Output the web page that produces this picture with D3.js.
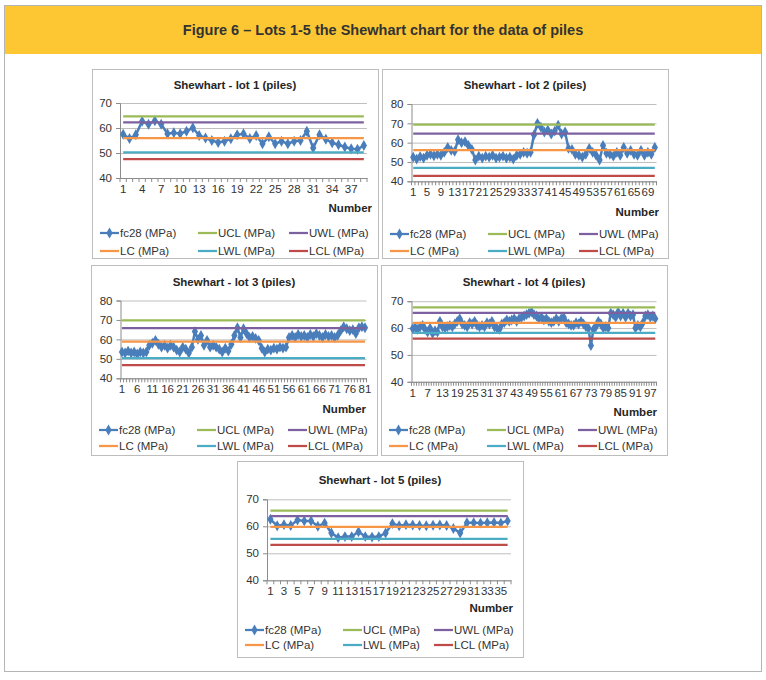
<!DOCTYPE html>
<html>
<head>
<meta charset="utf-8">
<script src="https://cdn.jsdelivr.net/npm/d3@7"></script>
<style>
  body { margin: 0; background: #fff; }
  svg { display: block; font-family: "Liberation Sans", Arial, sans-serif; }
</style>
</head>
<body>
<div id="chart"></div>
<script>
// fc28 values (MPa)
const lot1 = [57.5, 55.8, 57.3, 62.7, 61.5, 62.9, 61.5, 57.7, 58.1, 57.7,
  58.7, 60.1, 57.0, 56.0, 55.0, 54.2, 54.7, 55.7, 57.3, 57.7,
  55.8, 57.0, 53.7, 56.5, 53.7, 54.7, 53.7, 54.7, 55.0, 58.7,
  52.0, 57.3, 55.5, 54.1, 53.3, 52.4, 51.7, 51.5, 53.0];
const lot2 = [52.5, 51.5, 52.8, 52.0, 53.5, 54.0, 53.2, 54.0, 53.5, 55.0,
  57.5, 56.0, 55.5, 61.5, 60.0, 60.5, 58.5, 56.5, 51.0, 53.0,
  52.0, 53.0, 52.5, 53.5, 52.0, 52.5, 53.0, 52.0, 52.5, 51.5,
  53.5, 54.0, 55.0, 54.5, 55.0,
  64.0, 70.0, 68.0, 65.5, 66.5, 64.5, 66.0, 69.0, 64.5, 65.5,
  57.0, 56.5, 54.0, 53.5, 52.5, 54.0, 57.0, 55.0, 53.5, 51.0,
  58.5, 54.5, 54.0, 53.0, 55.0, 53.5, 57.5, 54.5, 56.0, 54.0,
  53.5, 56.0, 53.5, 55.0, 54.0, 57.5];
const lot3 = [53.5, 53.0, 54.0, 53.0, 53.5, 52.5, 53.5, 53.0, 53.5, 57.0,
  58.0, 59.5, 57.5, 56.0, 57.0, 55.5, 57.0, 56.0, 54.5, 53.5,
  56.0, 55.0, 53.0, 56.0, 64.0, 60.0, 62.0, 57.0, 59.5, 56.0,
  57.0, 56.0, 55.0, 53.5, 55.5, 54.0, 57.5, 62.0, 66.0, 61.0,
  65.5, 63.0, 61.0, 61.5, 60.5, 59.5, 55.5, 53.5, 55.0, 54.5,
  55.5, 55.0, 56.0, 55.5, 56.0, 61.0, 62.0, 61.0, 62.5, 61.5,
  62.0, 61.0, 62.5, 61.5, 63.0, 62.0, 61.0, 62.5, 61.5, 62.0,
  61.0, 62.0, 64.5, 66.5, 65.5, 64.5, 65.0, 63.0, 66.0, 66.5,
  66.0];
const lot4 = [59.8, 60.2, 59.5, 60.5, 61.0, 59.5, 58.5, 60.0, 58.0, 59.0,
  58.5, 62.5, 60.5, 60.0, 60.5, 61.0, 60.5, 61.5, 62.5, 63.5,
  61.5, 61.0, 60.5, 62.0, 61.5, 62.5, 61.0, 60.5, 61.0, 60.5,
  62.0, 61.5, 62.5, 60.5, 60.0, 59.5, 61.5, 62.0, 63.0, 62.5,
  63.0, 63.5, 62.5, 63.5, 64.0, 64.5, 65.0, 65.5, 66.0, 65.0,
  64.5, 63.5, 64.0, 63.0, 63.5, 62.5, 62.0, 62.5, 63.5, 62.5,
  63.5, 64.0, 62.0, 61.5, 61.0, 61.0, 62.0, 61.5, 62.5, 61.5,
  60.5, 60.0, 53.5, 59.5, 60.5, 62.5, 61.5, 60.0, 60.5, 60.0,
  65.5, 65.0, 64.0, 66.0, 64.5, 65.5, 64.0, 65.5, 64.5, 65.0,
  60.0, 61.0, 60.5, 62.0, 64.5, 65.0, 64.0, 64.5, 63.5];
const lot5 = [62.6, 60.2, 60.6, 60.3, 62.3, 62.0, 62.0, 60.0, 61.2, 57.5,
  55.8, 56.2, 56.2, 58.0, 56.2, 56.0, 56.2, 57.5, 61.0, 60.2,
  60.6, 60.5, 60.3, 60.2, 60.4, 60.5, 60.3, 59.2, 57.5, 61.3,
  61.3, 61.2, 61.3, 61.4, 61.2, 62.0];

// control limits per lot: UCL, UWL, LC, LWL, LCL
const limits1 = [64.7, 62.3, 56.0, 50.3, 47.6];
const limits2 = [69.3, 64.7, 56.1, 47.0, 42.8];
const limits3 = [69.8, 65.8, 58.8, 50.4, 46.8];
const limits4 = [67.7, 65.7, 61.9, 58.2, 56.1];
const limits5 = [65.8, 63.8, 59.8, 55.3, 53.1];

const lotNames = ['Shewhart - lot 1 (piles)', 'Shewhart - lot 2 (piles)', 'Shewhart - lot 3 (piles)',
  'Shewhart - lot 4 (piles)', 'Shewhart - lot 5 (piles)'];
const yTicks1 = [40, 50, 60, 70];
const yTicks2 = [40, 50, 60, 70, 80];
const labelStep = [3, 4, 5, 6, 2];
const seriesNames = ['fc28 (MPa)', 'UCL (MPa)', 'UWL (MPa)', 'LC (MPa)', 'LWL (MPa)', 'LCL (MPa)'];
const seriesColors = ['#4a7ebb', '#9bbb59', '#7d60a0', '#f79646', '#4bacc6', '#be4b48'];

const width = 766, height = 680;
const svg = d3.select('#chart').append('svg').attr('width', width).attr('height', height);

// page frame and yellow caption
svg.append('rect').attr('x', 4.5).attr('y', 5.5).attr('width', 757).attr('height', 666)
  .attr('fill', '#fff').attr('stroke', '#b5b5b5');
svg.append('rect').attr('x', 5).attr('y', 6).attr('width', 756).attr('height', 48).attr('fill', '#fdc734');
svg.append('text').attr('x', 383).attr('y', 35).attr('text-anchor', 'middle')
  .style('font-size', '14.5px').style('font-weight', 'bold').style('fill', '#333')
  .text('Figure 6 – Lots 1-5 the Shewhart chart for the data of piles');

// layout of the five chart boxes: frame, plot area, title y, legend rows, "Number" label
const panels = [
  {data: lot1, limits: limits1, yTicks: yTicks1, frame: [92, 69, 378, 258], plot: [120, 103, 367, 178], titleY: 89, numX: 372, numY: 212, legY: [233, 251]},
  {data: lot2, limits: limits2, yTicks: yTicks2, frame: [382, 69, 668, 258], plot: [411.5, 104, 656.5, 181.3], titleY: 89, numX: 659, numY: 216, legY: [234, 251]},
  {data: lot3, limits: limits3, yTicks: yTicks2, frame: [91, 265, 377, 455], plot: [120.5, 300.5, 366.5, 378.3], titleY: 286, numX: 366, numY: 413, legY: [430, 446]},
  {data: lot4, limits: limits4, yTicks: yTicks1, frame: [381, 265, 667, 455], plot: [411.5, 301.2, 656.5, 381.8], titleY: 286, numX: 657, numY: 416, legY: [430, 446]},
  {data: lot5, limits: limits5, yTicks: yTicks1, frame: [237, 461, 523, 657], plot: [267, 499.3, 511, 580.3], titleY: 484, numX: 513, numY: 612, legY: [630, 645]}
];

const diamond = d3.symbol().type(d3.symbolDiamond).size(34);

panels.forEach(function (p, k) {
  const g = svg.append('g').attr('class', 'panel');
  const [fx0, fy0, fx1, fy1] = p.frame;
  const [px0, py0, px1, py1] = p.plot;
  g.append('rect').attr('x', fx0 + 0.5).attr('y', fy0 + 0.5).attr('width', fx1 - fx0).attr('height', fy1 - fy0)
    .attr('fill', '#fff').attr('stroke', '#bdbdbd');

  g.append('text').attr('x', (fx0 + fx1) / 2).attr('y', p.titleY).attr('text-anchor', 'middle')
    .style('font-size', '11.5px').style('font-weight', 'bold').style('fill', '#262626').text(lotNames[k]);

  const n = p.data.length;
  const x = d3.scaleBand().domain(d3.range(1, n + 1)).range([px0, px1]);
  const y = d3.scaleLinear().domain([40, d3.max(p.yTicks)]).range([py1, py0]);

  // gridlines
  g.append('g').attr('transform', 'translate(' + px0 + ',0)')
    .call(d3.axisLeft(y).tickValues(p.yTicks).tickSize(-(px1 - px0)).tickFormat(''))
    .call(function (a) {
      a.select('.domain').remove();
      a.selectAll('line').attr('stroke', '#bfbfbf');
    });

  // y axis
  g.append('g').attr('transform', 'translate(' + px0 + ',0)')
    .call(d3.axisLeft(y).tickValues(p.yTicks).tickSize(4).tickPadding(4))
    .call(function (a) {
      a.select('.domain').attr('stroke', '#8c8c8c');
      a.selectAll('line').attr('stroke', '#8c8c8c');
      a.selectAll('text').style('font-size', '11.5px').style('fill', '#333');
    });

  // x axis: labels every few categories, ticks between categories
  const xAxis = g.append('g').attr('transform', 'translate(0,' + py1 + ')')
    .call(d3.axisBottom(x).tickValues(d3.range(1, n + 1, labelStep[k])).tickSize(0).tickPadding(7))
    .call(function (a) {
      a.select('.domain').attr('stroke', '#8c8c8c');
      a.selectAll('text').style('font-size', '11.5px').style('fill', '#333');
    });
  xAxis.selectAll('line.cat').data(d3.range(0, n + 1)).enter().append('line').attr('class', 'cat')
    .attr('x1', function (i) { return px0 + i * x.step(); })
    .attr('x2', function (i) { return px0 + i * x.step(); })
    .attr('y1', 0).attr('y2', 4).attr('stroke', '#8c8c8c');

  g.append('text').attr('x', p.numX).attr('y', p.numY).attr('text-anchor', 'end')
    .style('font-size', '11.5px').style('font-weight', 'bold').style('fill', '#262626').text('Number');

  // fc28 series
  const cx = function (d, i) { return x(i + 1) + x.bandwidth() / 2; };
  g.append('path').datum(p.data)
    .attr('d', d3.line().x(cx).y(function (d) { return y(d); }))
    .attr('fill', 'none').attr('stroke', seriesColors[0]).attr('stroke-width', 2.5);
  g.selectAll('path.mark').data(p.data).enter().append('path').attr('class', 'mark')
    .attr('d', diamond)
    .attr('transform', function (d, i) { return 'translate(' + cx(d, i) + ',' + y(d) + ')'; })
    .attr('fill', seriesColors[0]);

  // control lines
  p.limits.forEach(function (v, j) {
    g.append('line').attr('x1', cx(0, 0)).attr('x2', cx(0, n - 1))
      .attr('y1', y(v)).attr('y2', y(v))
      .attr('stroke', seriesColors[j + 1]).attr('stroke-width', 2.25);
  });

  // legend, two rows of three
  const colX = [fx0 + 8, fx0 + 106, fx0 + 197];
  seriesNames.forEach(function (name, j) {
    const lx = colX[j % 3], ly = p.legY[Math.floor(j / 3)];
    const item = g.append('g').attr('transform', 'translate(' + lx + ',' + ly + ')');
    item.append('line').attr('x1', 0).attr('x2', 19).attr('y1', 0).attr('y2', 0)
      .attr('stroke', seriesColors[j]).attr('stroke-width', 2.25);
    if (j === 0) {
      item.append('path').attr('d', diamond).attr('transform', 'translate(9.5,0)').attr('fill', seriesColors[0]);
    }
    item.append('text').attr('x', 20).attr('y', 4).style('font-size', '11.5px').style('fill', '#333').text(name);
  });
});
</script>
</body>
</html>
